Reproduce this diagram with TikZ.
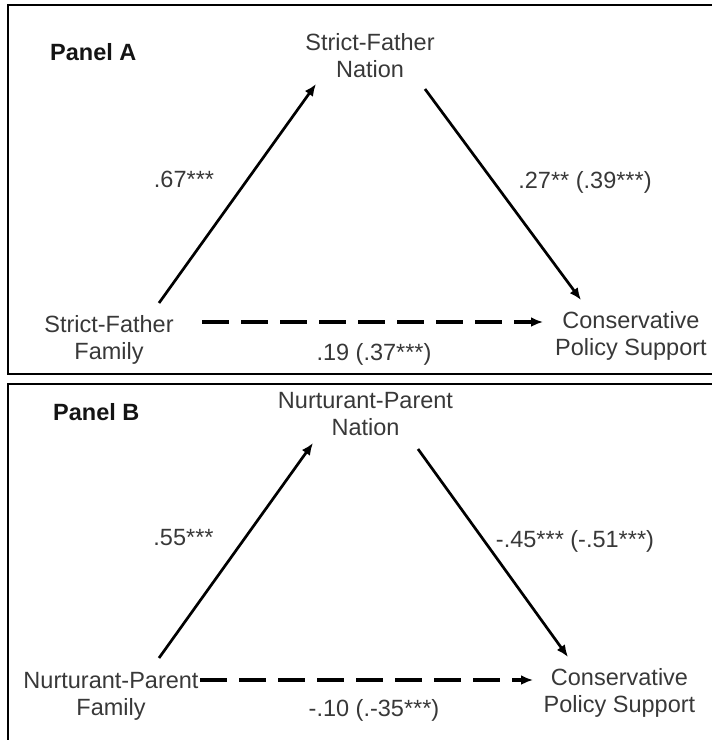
\documentclass[tikz,border=0pt]{standalone}
\usepackage{fontspec}
\setmainfont{Liberation Sans}
\usepackage{tikz}
\usetikzlibrary{arrows.meta}
\usetikzlibrary{calc}

\begin{document}
\begin{tikzpicture}
    [x=1pt, y=-1pt,
     var/.style={align=center, inner sep=0pt, anchor=north, text=black!78,
                 font=\fontsize{23.5}{27.5}\selectfont},
     coef/.style={inner sep=0pt, anchor=base, text=black!78,
                  font=\fontsize{23.5}{27.5}\selectfont},
     panel/.style={inner sep=0pt, anchor=base west, text=black!92,
                   font=\fontsize{23.5}{27.5}\selectfont\bfseries},
     frame/.style={draw=black, line width=2pt},
     effect/.style={draw=black, line width=2.7pt, -{Latex[length=12pt, width=10pt]}},
     direct/.style={line width=3.4pt, dash pattern=on 27pt off 12pt}]
    \useasboundingbox (0,0) rectangle (712,740);
    \clip (0,0) rectangle (712,740);

    % Panel A
    \draw[frame] (8,5) rectangle (730,374);
    \node[panel] (pa) at (50,60) {Panel A};
    \node[var] (natA) at (370,33) {Strict-Father\\Nation};
    \node[var] (famA) at (109,315) {Strict-Father\\Family};
    \node[var] (supA) at (631,311) {Conservative\\Policy Support};
    \node[coef] (a1) at (184,187) {.67***};
    \node[coef] (a2) at (585,188) {.27** (.39***)};
    \node[coef] (a3) at (374,360) {.19 (.37***)};

    \draw[effect] ($(famA.north)+(50,-12)$) -- ($(natA.north)+(-54,51)$);
    \draw[effect] ($(natA.north)+(55,56)$) -- ($(supA.north)+(-50,-11)$);
    \draw[effect, direct] ($(famA.north)+(93,7)$) -- ($(supA.north)+(-88,11)$);

    % Panel B
    \draw[frame] (8,384) rectangle (730,760);
    \node[panel] (pb) at (53,420) {Panel B};
    \node[var] (natB) at (365.5,392) {Nurturant-Parent\\Nation};
    \node[var] (famB) at (111,672) {Nurturant-Parent\\Family};
    \node[var] (supB) at (619.5,668) {Conservative\\Policy Support};
    \node[coef] (b1) at (183.5,545) {.55***};
    \node[coef] (b2) at (575,547) {-.45*** (-.51***)};
    \node[coef] (b3) at (374,716) {-.10 (.-35***)};

    \draw[effect] ($(famB.north)+(48,-14)$) -- ($(natB.north)+(-52.5,51)$);
    \draw[effect] ($(natB.north)+(52.5,57)$) -- ($(supB.north)+(-51.5,-11)$);
    \draw[effect, direct] ($(famB.north)+(89,8)$) -- ($(supB.north)+(-86.5,12)$);
\end{tikzpicture}
\end{document}
